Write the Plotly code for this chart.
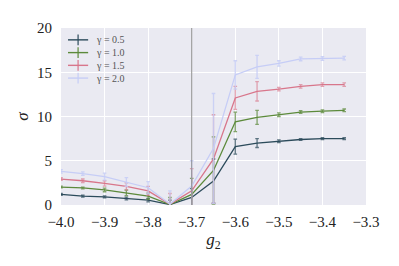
import plotly.graph_objects as go

g2 = [-4.0, -3.95, -3.9, -3.85, -3.8, -3.75, -3.7, -3.65, -3.6, -3.55, -3.5, -3.45, -3.4, -3.35]

labels = ["γ = 0.5", "γ = 1.0", "γ = 1.5", "γ = 2.0"]
colors = ["#2c4b5b", "#5c8a3b", "#d8768b", "#c6cdf6"]
err_colors = ["rgba(44,75,91,0.75)", "rgba(92,138,59,0.75)", "rgba(216,118,139,0.65)", "rgba(198,205,246,0.85)"]

sigma_05 = [1.2, 1.0, 0.92, 0.74, 0.55, 0.05, 0.85, 2.7, 6.6, 7.0, 7.2, 7.4, 7.5, 7.5]
sigma_10 = [2.03, 1.93, 1.7, 1.37, 1.0, 0.05, 1.2, 3.9, 9.4, 9.9, 10.2, 10.5, 10.6, 10.7]
sigma_15 = [2.93, 2.74, 2.44, 2.1, 1.6, 0.1, 1.6, 5.2, 12.1, 12.85, 13.1, 13.4, 13.6, 13.6]
sigma_20 = [3.8, 3.55, 3.2, 2.6, 1.95, 0.1, 2.15, 6.4, 14.7, 15.6, 16.0, 16.5, 16.55, 16.6]

err_05 = [0.1, 0.1, 0.1, 0.15, 0.2, 0.5, 1.0, 2.5, 0.85, 0.5, 0.15, 0.1, 0.1, 0.1]
err_10 = [0.1, 0.1, 0.2, 0.3, 0.35, 0.8, 1.8, 3.8, 1.1, 0.8, 0.2, 0.15, 0.15, 0.15]
err_15 = [0.15, 0.2, 0.3, 0.4, 0.5, 1.2, 2.5, 5.0, 1.3, 1.1, 0.2, 0.2, 0.2, 0.2]
err_20 = [0.2, 0.2, 0.4, 0.5, 0.7, 1.5, 2.85, 6.2, 1.6, 1.3, 0.3, 0.2, 0.2, 0.2]

x_ticks = [-4.0, -3.9, -3.8, -3.7, -3.6, -3.5, -3.4, -3.3]
x_ticktext = ["−4.0", "−3.9", "−3.8", "−3.7", "−3.6", "−3.5", "−3.4", "−3.3"]
y_ticks = [0, 5, 10, 15, 20]
vline_x = -3.7

series = [sigma_05, sigma_10, sigma_15, sigma_20]
errors = [err_05, err_10, err_15, err_20]

fig = go.Figure()
for lab, col, ecol, ys, es in zip(labels, colors, err_colors, series, errors):
    fig.add_trace(go.Scatter(
        x=g2, y=ys, mode="lines", name=lab, showlegend=False,
        line=dict(color=col, width=1.3),
        error_y=dict(type="data", array=es, color=ecol, thickness=1.3, width=1.8),
    ))

fig.add_vline(x=vline_x, line=dict(color="#8f8f8f", width=1))

# manual compact legend (paper coordinates)
leg_x0, leg_x1, leg_text_x = 0.023, 0.089, 0.108
leg_y = [0.933, 0.861, 0.789, 0.717]
for lab, col, ly in zip(labels, colors, leg_y):
    fig.add_shape(type="line", xref="paper", yref="paper", x0=leg_x0, x1=leg_x1, y0=ly, y1=ly,
                  line=dict(color=col, width=1.4))
    xm = (leg_x0 + leg_x1) / 2
    fig.add_shape(type="line", xref="paper", yref="paper", x0=xm, x1=xm, y0=ly - 0.03, y1=ly + 0.03,
                  line=dict(color=col, width=1.2))
    fig.add_annotation(x=leg_text_x, y=ly, xref="paper", yref="paper", text=lab, showarrow=False,
                       xanchor="left", yanchor="middle",
                       font=dict(size=10, color="#555", family="Liberation Serif, DejaVu Serif, serif"))

font = "Liberation Serif, DejaVu Serif, serif"
fig.update_layout(
    width=399, height=266,
    margin=dict(l=53, r=41, t=17, b=69),
    paper_bgcolor="white", plot_bgcolor="#eaeaf2",
    font=dict(family=font, size=15, color="#222"),
    showlegend=False,
    xaxis=dict(range=[-4.0, -3.3], tickvals=x_ticks, ticktext=x_ticktext,
               showgrid=True, gridcolor="white", gridwidth=1.2, zeroline=False,
               showline=False, ticks="", ticklabelstandoff=6,
               title=dict(text="<i>g</i><sub>2</sub>", standoff=4, font=dict(size=17))),
    yaxis=dict(range=[0, 20], tickvals=y_ticks,
               showgrid=True, gridcolor="white", gridwidth=1.2, zeroline=False,
               showline=False, ticks="", ticklabelstandoff=8,
               title=dict(text="<i>σ</i>", standoff=4, font=dict(size=17))),
)

fig.write_html("out.html")
